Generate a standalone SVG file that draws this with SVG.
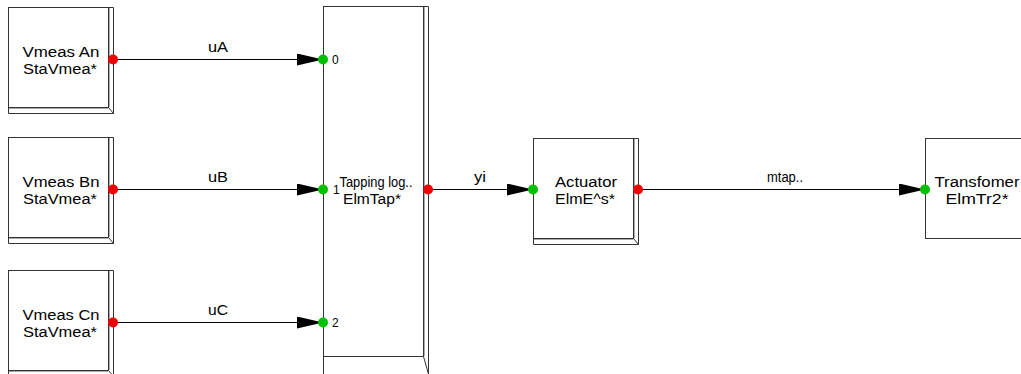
<svg xmlns="http://www.w3.org/2000/svg" width="1021" height="374" viewBox="0 0 1021 374">
<style>
.box{fill:#fff;stroke:#333;stroke-width:1}
.sh{fill:none;stroke:#333;stroke-width:1}
.shi{fill:none;stroke:#aaa;stroke-width:1}
.t{font-family:"Liberation Sans",Arial,sans-serif;font-size:14px;fill:#000;text-anchor:middle}
.p{font-family:"Liberation Sans",Arial,sans-serif;font-size:12px;fill:#000}
.w{stroke:#000;stroke-width:1;fill:none}
.in{fill:#00c000}
.out{fill:#f00000}
</style>
<defs>
<marker id="ah" markerUnits="userSpaceOnUse" markerWidth="27" markerHeight="13" refX="26" refY="6" orient="auto">
<path d="M0,0 L26,6 L0,12 z" fill="#000"/>
</marker>
</defs>
<g id="connectors">
<line class="w" x1="113" y1="59.5" x2="323" y2="59.5" marker-end="url(#ah)"/>
<line class="w" x1="113" y1="189.5" x2="323" y2="189.5" marker-end="url(#ah)"/>
<line class="w" x1="113" y1="322.5" x2="323" y2="322.5" marker-end="url(#ah)"/>
<line class="w" x1="428" y1="189.5" x2="533" y2="189.5" marker-end="url(#ah)"/>
<line class="w" x1="638" y1="189.5" x2="925" y2="189.5" marker-end="url(#ah)"/>
<text class="t" x="218" y="52" textLength="20" lengthAdjust="spacingAndGlyphs">uA</text>
<text class="t" x="218" y="182" textLength="20" lengthAdjust="spacingAndGlyphs">uB</text>
<text class="t" x="218" y="315" textLength="20" lengthAdjust="spacingAndGlyphs">uC</text>
<text class="t" x="480" y="182" textLength="12" lengthAdjust="spacingAndGlyphs">yi</text>
<text class="t" x="785" y="182" textLength="36" lengthAdjust="spacingAndGlyphs">mtap..</text>
</g>
<g id="vmeasA">
<rect class="box" x="8.5" y="7.5" width="100" height="100"/>
<path class="shi" d="M109.5,8 V107 M9,108.5 H108"/>
<path class="sh" d="M108.5,7.5 H113.5 V113.5 H8.5 V107.5 M108.5,107.5 L113.5,113.5"/>
<text class="t" x="61" y="57" textLength="77" lengthAdjust="spacingAndGlyphs">Vmeas An</text>
<text class="t" x="60" y="74" textLength="74" lengthAdjust="spacingAndGlyphs">StaVmea*</text>
<circle class="out" cx="113" cy="59.5" r="5"/>
</g>
<g id="vmeasB">
<rect class="box" x="8.5" y="137.5" width="100" height="100"/>
<path class="shi" d="M109.5,138 V237 M9,238.5 H108"/>
<path class="sh" d="M108.5,137.5 H113.5 V243.5 H8.5 V237.5 M108.5,237.5 L113.5,243.5"/>
<text class="t" x="61" y="187" textLength="77" lengthAdjust="spacingAndGlyphs">Vmeas Bn</text>
<text class="t" x="60" y="204" textLength="74" lengthAdjust="spacingAndGlyphs">StaVmea*</text>
<circle class="out" cx="113" cy="189.5" r="5"/>
</g>
<g id="vmeasC">
<rect class="box" x="8.5" y="270.5" width="100" height="100"/>
<path class="shi" d="M109.5,271 V370 M9,371.5 H108"/>
<path class="sh" d="M108.5,270.5 H113.5 V376.5 H8.5 V370.5 M108.5,370.5 L113.5,376.5"/>
<text class="t" x="61" y="320" textLength="77" lengthAdjust="spacingAndGlyphs">Vmeas Cn</text>
<text class="t" x="60" y="337" textLength="74" lengthAdjust="spacingAndGlyphs">StaVmea*</text>
<circle class="out" cx="113" cy="322.5" r="5"/>
</g>
<g id="tapping">
<rect class="box" x="323.5" y="6.5" width="100" height="350"/>
<path class="shi" d="M424.5,7 V356"/>
<path class="sh" d="M423.5,6.5 H428.5 V374 M323.5,356.5 V374 M423.5,356.5 L428.5,374"/>
<text class="t" x="376" y="187" textLength="73" lengthAdjust="spacingAndGlyphs">Tapping log..</text>
<text class="t" x="372" y="204" textLength="58" lengthAdjust="spacingAndGlyphs">ElmTap*</text>
<text class="p" x="332" y="64">0</text>
<text class="p" x="333" y="194" font-size="10">1</text>
<text class="p" x="332" y="327">2</text>
<circle class="in" cx="323" cy="59.5" r="5"/>
<circle class="in" cx="323" cy="189.5" r="5"/>
<circle class="in" cx="323" cy="322.5" r="5"/>
<circle class="out" cx="428" cy="189.5" r="5"/>
</g>
<g id="actuator">
<rect class="box" x="533.5" y="138.5" width="100" height="100"/>
<path class="shi" d="M634.5,139 V238 M534,239.5 H633"/>
<path class="sh" d="M633.5,138.5 H638.5 V244.5 H533.5 V238.5 M633.5,238.5 L638.5,244.5"/>
<text class="t" x="586" y="187" textLength="62" lengthAdjust="spacingAndGlyphs">Actuator</text>
<text class="t" x="585" y="204" textLength="60" lengthAdjust="spacingAndGlyphs">ElmE^s*</text>
<circle class="in" cx="533" cy="189.5" r="5"/>
<circle class="out" cx="638" cy="189.5" r="5"/>
</g>
<g id="transformer">
<rect class="box" x="925.5" y="138.5" width="100" height="100"/>
<text class="t" x="977" y="187" textLength="85" lengthAdjust="spacingAndGlyphs">Transfomer</text>
<text class="t" x="977" y="204" textLength="63" lengthAdjust="spacingAndGlyphs">ElmTr2*</text>
<circle class="in" cx="925" cy="189.5" r="5"/>
</g>
</svg>
